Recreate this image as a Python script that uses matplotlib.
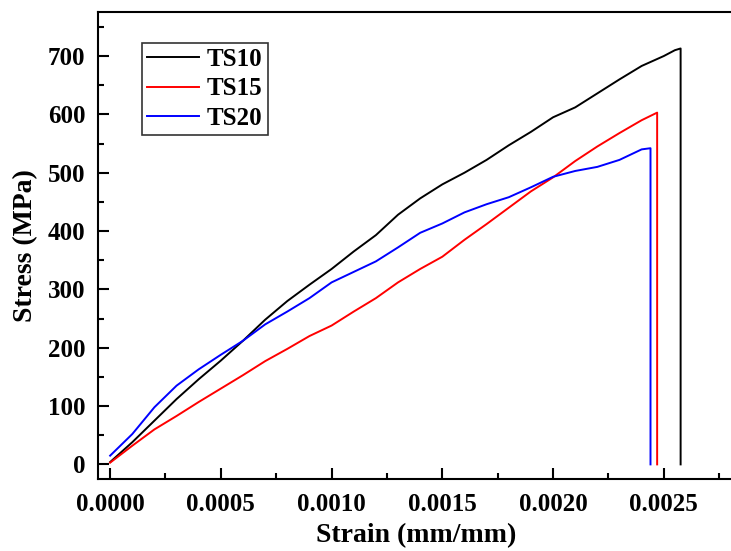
import numpy as np
import matplotlib.pyplot as plt
from matplotlib.ticker import MultipleLocator

plt.rcParams['font.family'] = 'Liberation Serif'
plt.rcParams['font.weight'] = 'bold'

# TS10 (black)
ts10_strain = [0.0, 0.0001, 0.0002, 0.0003, 0.0004, 0.0005, 0.0006, 0.0007, 0.0008,
               0.0009, 0.001, 0.0011, 0.0012, 0.0013, 0.0014, 0.0015, 0.0016, 0.0017,
               0.0018, 0.0019, 0.002, 0.0021, 0.0022, 0.0023, 0.0024, 0.0025, 0.00255,
               0.002576, 0.002576]
ts10_stress = [4, 38, 75, 112, 146, 178, 212, 248, 280, 308, 335, 365, 393, 428, 456,
               480, 500, 522, 547, 570, 595, 612, 636, 660, 683, 700, 710, 713, 0]

# TS15 (red)
ts15_strain = [0.0, 0.0001, 0.0002, 0.0003, 0.0004, 0.0005, 0.0006, 0.0007, 0.0008,
               0.0009, 0.001, 0.0011, 0.0012, 0.0013, 0.0014, 0.0015, 0.0016, 0.0017,
               0.0018, 0.0019, 0.002, 0.0021, 0.0022, 0.0023, 0.0024, 0.00247, 0.00247]
ts15_stress = [3, 32, 60, 83, 107, 130, 153, 177, 198, 220, 238, 262, 285, 312, 335,
               356, 385, 412, 440, 468, 492, 520, 545, 568, 590, 603, 0]

# TS20 (blue)
ts20_strain = [0.0, 0.0001, 0.0002, 0.0003, 0.0004, 0.0005, 0.0006, 0.0007, 0.0008,
               0.0009, 0.001, 0.0011, 0.0012, 0.0013, 0.0014, 0.0015, 0.0016, 0.0017,
               0.0018, 0.0019, 0.002, 0.0021, 0.0022, 0.0023, 0.0024, 0.00244, 0.00244]
ts20_stress = [15, 52, 98, 135, 163, 188, 212, 240, 262, 285, 312, 330, 348, 372, 397,
               413, 432, 446, 458, 475, 493, 503, 510, 522, 540, 542, 0]

fig = plt.figure(figsize=(7.31, 5.51), dpi=100)
ax = fig.add_axes([0.134, 0.1307, 0.871, 0.847])

ax.plot(ts10_strain, ts10_stress, color='black', lw=1.4, label='TS10')
ax.plot(ts15_strain, ts15_stress, color='red', lw=1.4, label='TS15')
ax.plot(ts20_strain, ts20_stress, color='blue', lw=1.4, label='TS20')

ax.set_xlim(-0.000055, 0.00282)
ax.set_ylim(-25, 775)
ax.xaxis.set_major_locator(MultipleLocator(0.0005))
ax.xaxis.set_minor_locator(MultipleLocator(0.00025))
ax.yaxis.set_major_locator(MultipleLocator(100))
ax.yaxis.set_minor_locator(MultipleLocator(50))
ax.xaxis.set_major_formatter(plt.FuncFormatter(lambda v, p: f'{v:.4f}'))
ax.tick_params(which='both', direction='in', width=1.5, labelsize=18)
ax.tick_params(which='major', length=8)
ax.tick_params(which='minor', length=4)
ax.tick_params(axis='x', pad=10)
ax.tick_params(axis='y', pad=9)
for s in ax.spines.values():
    s.set_linewidth(1.5)

ax.set_xlabel('Strain (mm/mm)', fontsize=20, fontweight='bold', labelpad=5)
ax.set_ylabel('Stress (MPa)', fontsize=20, fontweight='bold', labelpad=7)

leg = ax.legend(loc='upper left', bbox_to_anchor=(0.069, 0.934), borderaxespad=0,
                fontsize=18, frameon=True, fancybox=False, edgecolor='black',
                handlelength=2.1, handletextpad=0.3, borderpad=0.2, labelspacing=0.25)
leg.get_frame().set_linewidth(1.2)
for t in leg.get_texts():
    t.set_fontweight('bold')

fig.savefig('out.png', dpi=100)
